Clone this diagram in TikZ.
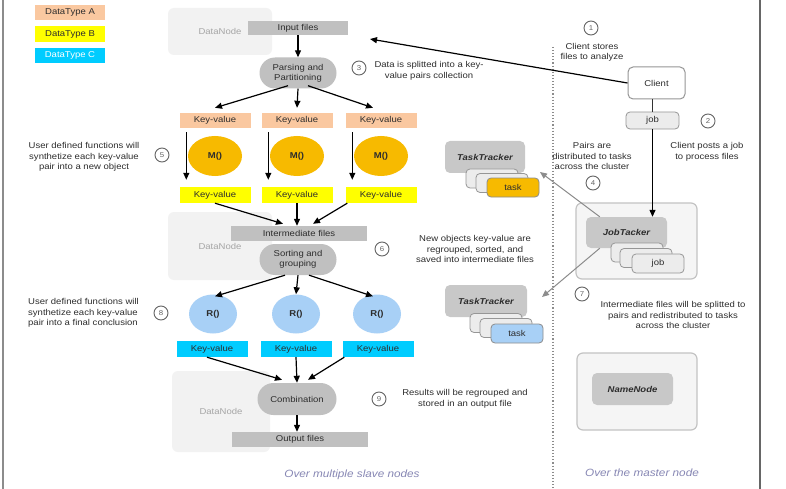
\documentclass[tikz,border=0pt]{standalone}
\usepackage{fontspec}
\setmainfont{Liberation Sans}[FakeStretch=1.12]
\usetikzlibrary{arrows.meta,shapes.geometric,shapes.misc,calc}
\definecolor{peach}{RGB}{250,200,160}
\definecolor{kyellow}{RGB}{255,255,0}
\definecolor{kcyan}{RGB}{0,204,255}
\definecolor{gold}{RGB}{247,186,0}
\definecolor{lblue}{RGB}{168,208,246}
\definecolor{boxgray}{RGB}{192,192,192}
\definecolor{trkgray}{RGB}{200,200,200}
\definecolor{bggray}{RGB}{242,242,242}
\definecolor{txt}{RGB}{45,45,45}
\definecolor{dntext}{RGB}{165,165,165}
\definecolor{numgray}{RGB}{100,100,100}
\definecolor{slate}{RGB}{135,135,180}
\definecolor{cardfill}{RGB}{236,236,236}
\definecolor{cardline}{RGB}{150,150,150}
\definecolor{outerfill}{RGB}{245,245,245}
\definecolor{outerline}{RGB}{195,195,195}
\definecolor{garrow}{RGB}{140,140,140}
\tikzset{
  every node/.style={text=txt},
  arr/.style={-{Triangle[length=7pt,width=6pt]}, line width=1.2pt, black},
  garr/.style={-{Triangle[length=7pt,width=6pt]}, line width=1pt, garrow},
  leg/.style={rectangle, minimum width=70pt, minimum height=15pt, inner sep=0pt},
  kvbox/.style={rectangle, minimum width=71pt, minimum height=15pt, inner sep=0pt},
  filebox/.style={rectangle, fill=boxgray, minimum width=136pt, minimum height=15pt, inner sep=0pt},
  proc/.style={rounded rectangle, fill=boxgray, minimum width=79pt, minimum height=31pt, inner sep=1pt, align=center, font=\fontsize{8.5}{10}\selectfont},
  mfun/.style={ellipse, fill=gold, minimum width=54pt, minimum height=40pt, inner sep=0pt, font=\fontsize{8.5}{10}\selectfont\bfseries},
  rfun/.style={ellipse, fill=lblue, minimum width=48pt, minimum height=39pt, inner sep=0pt, font=\fontsize{8.5}{10}\selectfont\bfseries},
  dn/.style={rectangle, rounded corners=6pt, fill=bggray, text=dntext, inner sep=0pt},
  trk/.style={rectangle, rounded corners=5pt, fill=trkgray, minimum width=80pt, minimum height=32pt, inner sep=0pt, font=\fontsize{8.5}{10}\selectfont\bfseries\itshape},
  card/.style={rectangle, rounded corners=4pt, draw=cardline, line width=0.8pt, fill=cardfill, minimum width=52pt, minimum height=19pt, inner sep=0pt},
  outerbox/.style={rectangle, rounded corners=6pt, draw=outerline, line width=1.2pt, fill=outerfill, inner sep=0pt},
  numc/.style={circle, draw=numgray, line width=0.9pt, fill=white, minimum size=14pt, inner sep=0pt, font=\fontsize{7}{7}\selectfont, text=numgray},
  note/.style={align=center, inner sep=0pt, text=txt},
  foot/.style={inner sep=0pt, text=slate, font=\fontsize{10.5}{12}\selectfont\itshape}
}
\begin{document}
\begin{tikzpicture}[x=1pt, y=-1pt, font=\fontsize{8.5}{10.5}\selectfont]
\path[use as bounding box, fill=white] (0,0) rectangle (786,489);

% frame lines
\coordinate (fl1) at (3,0); \coordinate (fl2) at (3,489);
\coordinate (fr1) at (760,0); \coordinate (fr2) at (760,489);
\draw[line width=2pt, black!45] (fl1) -- (fl2);
\draw[line width=2pt, black!60] (fr1) -- (fr2);

% dotted separator
\coordinate (dtop) at (553,47); \coordinate (dbot) at (553,489);
\draw[dotted, line width=1.1pt, black!45] (dtop) -- (dbot);

% legend
\node[leg, fill=peach] (legA) at (70,12.5) {DataType A};
\node[leg, fill=kyellow, minimum height=16pt] (legB) at (70,34) {DataType B};
\node[leg, fill=kcyan, text=white] (legC) at (70,55.5) {DataType C};

% DataNode backgrounds
\node[dn, minimum width=104pt, minimum height=47pt] (dn1) at (220,31.5) {DataNode};
\node[dn, minimum width=104pt, minimum height=68pt] (dn2) at (220,246) {DataNode};
\node[dn, minimum width=98pt, minimum height=81pt] (dn3) at (221,411.5) {DataNode};

% main flow
\node[filebox, minimum width=100pt, minimum height=14pt] (input) at (298,28) {Input files};
\node[proc] (parse) at (298,73) {Parsing and\\Partitioning};

\node[kvbox, fill=peach] (kva1) at (215,120.5) {Key-value};
\node[kvbox, fill=peach] (kva2) at (297,120.5) {Key-value};
\node[kvbox, fill=peach] (kva3) at (381,120.5) {Key-value};

\node[mfun] (m1) at (215,156) {M()};
\node[mfun] (m2) at (297,156) {M()};
\node[mfun] (m3) at (381,156) {M()};

\node[kvbox, fill=kyellow, minimum height=16pt] (kvb1) at (215,195) {Key-value};
\node[kvbox, fill=kyellow, minimum height=16pt] (kvb2) at (297,195) {Key-value};
\node[kvbox, fill=kyellow, minimum height=16pt] (kvb3) at (381,195) {Key-value};

\node[filebox] (interm) at (299,233.5) {Intermediate files};
\node[proc] (sort) at (298,259.5) {Sorting and\\grouping};

\node[rfun] (r1) at (213,314) {R()};
\node[rfun] (r2) at (296,314) {R()};
\node[rfun] (r3) at (377,314) {R()};

\node[kvbox, fill=kcyan, minimum height=16pt] (kvc1) at (212,349) {Key-value};
\node[kvbox, fill=kcyan, minimum height=16pt] (kvc2) at (296,349) {Key-value};
\node[kvbox, fill=kcyan, minimum height=16pt] (kvc3) at (378,349) {Key-value};

\node[proc, minimum width=81pt, minimum height=32pt] (comb) at (297,399) {Combination};
\node[filebox] (out) at (300,439.5) {Output files};

% arrows main flow
\draw[arr] (input.south -| parse.north) -- (parse.north);
\draw[arr] ($(parse.south)+(-10,-3)$) -- ($(kva1.north)+(0,-5)$);
\draw[arr] (parse.south) -- ($(kva2.north)+(0,-5)$);
\draw[arr] ($(parse.south)+(10,-3)$) -- ($(kva3.north)+(-8,-5)$);
\foreach \i in {1,2,3}
  \draw[arr] ($(kva\i.south west)+(7,4)$) -- ($(kvb\i.north west)+(7,-7)$);
\draw[arr] (kvb1.south) -- ($(interm.north)+(-16,-2)$);
\draw[arr] (kvb2.south) -- (kvb2.south |- interm.north);
\draw[arr] ($(kvb3.south west)+(2,0)$) -- ($(interm.north)+(14,-2)$);
\draw[arr] ($(sort.south)+(-13,0)$) -- ($(r1.north)+(2,2)$);
\draw[arr] (sort.south) -- (r2.north);
\draw[arr] ($(sort.south)+(11,0)$) -- ($(r3.north)+(-4,2)$);
\draw[arr] ($(kvc1.south)+(-5,0)$) -- ($(comb.north)+(-15,-3)$);
\draw[arr] (kvc2.south) -- (comb.north);
\draw[arr] ($(kvc3.south west)+(2,0)$) -- ($(comb.north)+(11,-3)$);
\draw[arr] (comb.south) -- (comb.south |- out.north);

% master side
\node[rectangle, rounded corners=5pt, draw=cardline, line width=1pt, fill=white, minimum width=57pt, minimum height=32pt, inner sep=0pt] (client) at (656.5,83) {Client};
\node[card, minimum width=53pt, minimum height=17pt] (job1) at (652.5,120.5) {job};

\node[outerbox, minimum width=121pt, minimum height=76pt] (jtout) at (636.5,241) {};
\node[trk, minimum width=81pt, minimum height=31pt] (jt) at (626.5,232.5) {JobTacker};
\node[card] (jc1) at (637,252.5) {};
\node[card] (jc2) at (646,258) {};
\node[card] (job2) at (658,263.5) {job};

\node[outerbox, minimum width=120pt, minimum height=77pt] (nnout) at (637,391.5) {};
\node[trk, minimum width=81pt, minimum height=32pt] (nn) at (632.5,389) {NameNode};

\draw[line width=1.2pt, black!80] (job1.north) -- (job1.north |- client.south);
\draw[arr] (job1.south) -- (job1.south |- jt.north);
\coordinate (inTip) at (370,39);
\draw[arr] (client.west) -- (inTip);

% task trackers
\node[trk] (tt1) at (485,157) {TaskTracker};
\node[card] (tc1) at (492,178.5) {};
\node[card] (tc2) at (502,183) {};
\node[card, fill=gold, draw=black!45] (task1) at (513,187.5) {task};

\node[trk, minimum width=82pt] (tt2) at (486,301) {TaskTracker};
\node[card] (tc3) at (496,323) {};
\node[card] (tc4) at (506,328) {};
\node[card, fill=lblue, draw=black!45] (task2) at (517,333.5) {task};

\coordinate (tt1tip) at (540,172);
\coordinate (tt2tip) at (542,297);
\draw[garr] ($(jt.north west)+(14,0)$) -- (tt1tip);
\draw[garr] ($(jt.south west)+(14,0)$) -- (tt2tip);

% numbered notes
\node[numc] (n1) at (591,28) {1};
\node[note] (t1) at (592,52.5) {Client stores\\files to analyze};
\node[numc] (n2) at (708,121) {2};
\node[note] (t2) at (707,152) {Client posts a job\\to process files};
\node[numc] (n3) at (359,68) {3};
\node[note] (t3) at (429,71) {Data is splitted into a key-\\value pairs collection};
\node[numc] (n4) at (593,183) {4};
\node[note] (t4) at (592,156) {Pairs are\\distributed to tasks\\across the cluster};
\node[numc] (n5) at (162,155) {5};
\node[note] (t5) at (84,157) {User defined functions will\\synthetize each key-value\\pair into a new object};
\node[numc] (n6) at (382,249) {6};
\node[note] (t6) at (475,249) {New objects key-value are\\regrouped, sorted, and\\saved into intermediate files};
\node[numc] (n7) at (582,294) {7};
\node[note] (t7) at (673,315) {Intermediate files will be splitted to\\pairs and redistributed to tasks\\across the cluster};
\node[numc] (n8) at (161,313) {8};
\node[note, align=left, anchor=west] (t8) at (28,313) {User defined functions will\\synthetize each key-value\\pair into a final conclusion};
\node[numc] (n9) at (379,399) {9};
\node[note] (t9) at (465,399) {Results will be regrouped and\\stored in an output file};

\node[foot] (f1) at (352,475) {Over multiple slave nodes};
\node[foot] (f2) at (642,473) {Over the master node};
\end{tikzpicture}
\end{document}
